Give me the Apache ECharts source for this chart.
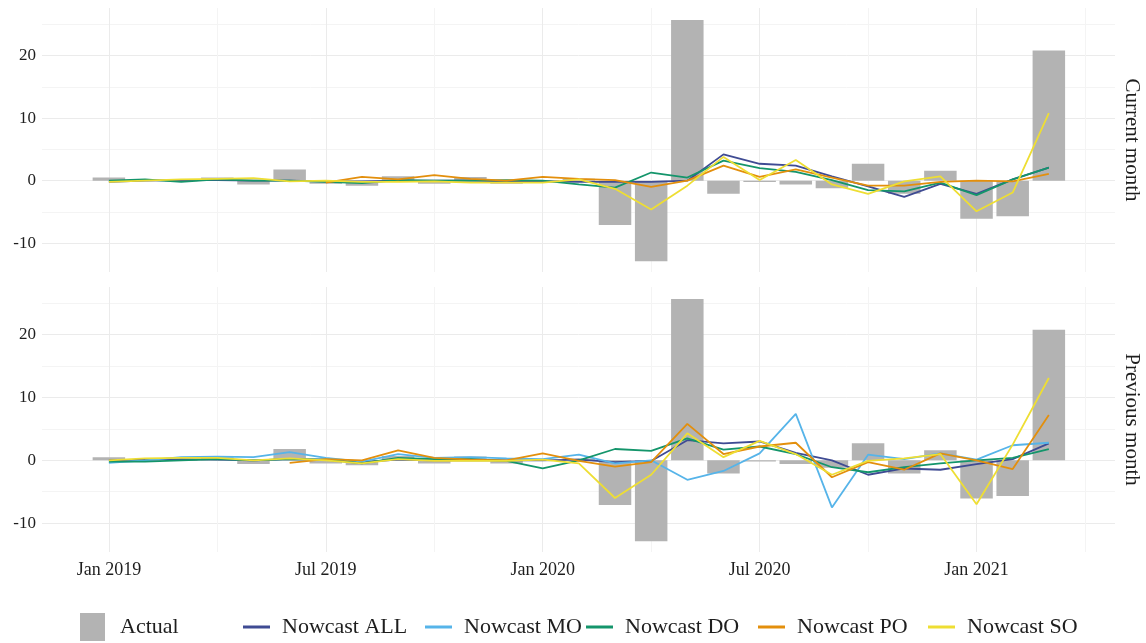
<!DOCTYPE html>
<html>
<head>
<meta charset="utf-8">
<title>Nowcasts vs actual</title>
<script src="https://cdn.jsdelivr.net/npm/echarts@6/dist/echarts.min.js"></script>
<style>
  html, body { margin: 0; padding: 0; background: #ffffff; }
  #chart { width: 1146px; height: 643px; }
</style>
</head>
<body>
<div id="chart"></div>
<script>
// Months covered, Jan 2019 .. Mar 2021 (x position = index in this list)
const months = [
  'Jan 2019','Feb 2019','Mar 2019','Apr 2019','May 2019','Jun 2019',
  'Jul 2019','Aug 2019','Sep 2019','Oct 2019','Nov 2019','Dec 2019',
  'Jan 2020','Feb 2020','Mar 2020','Apr 2020','May 2020','Jun 2020',
  'Jul 2020','Aug 2020','Sep 2020','Oct 2020','Nov 2020','Dec 2020',
  'Jan 2021','Feb 2021','Mar 2021'
];

// Tick positions (month index): labelled half-years and in-between quarters
const xMajorTicks = [0, 6, 12, 18, 24];
const xMinorTicks = [3, 9, 15, 21, 27];
const yMajorTicks = [-10, 0, 10, 20];
const yMinorTicks = [-5, 5, 15, 25];

// Actual monthly change (same in both panels)
const actual = [0.5, 0.1, -0.1, 0.5, -0.6, 1.8, -0.5, -0.8, 0.7, -0.5, 0.6, -0.5,
  0.1, 0.3, -7.1, -12.9, 25.7, -2.1, -0.2, -0.6, -1.2, 2.7, -2.1, 1.6, -6.1, -5.7, 20.8];

// Panel "Current month"
const curALL = [-0.2, 0.0, 0.1, 0.1, 0.0, 0.0, -0.1, -0.1, 0.0, 0.0, 0.0, -0.1,
  -0.1, -0.2, -0.2, -0.2, 0.0, 4.2, 2.7, 2.4, 0.7, -0.9, -2.6, -0.5, -2.1, 0.2, 2.1];
const curDO = [0.0, 0.2, -0.2, 0.2, 0.0, 0.0, -0.2, -0.4, 0.1, 0.0, 0.0, 0.1,
  0.0, -0.6, -1.1, 1.3, 0.5, 3.2, 2.0, 1.4, 0.1, -1.5, -1.7, -0.3, -2.3, 0.2, 2.1];
const curPO = [null, null, null, null, null, null, -0.3, 0.6, 0.2, 0.9, 0.3, 0.0,
  0.6, 0.3, 0.1, -1.0, 0.0, 2.4, 0.6, 1.8, 0.5, -0.8, -0.8, -0.2, 0.0, -0.1, 1.1];
const curSO = [-0.2, 0.0, 0.2, 0.3, 0.4, -0.1, 0.0, -0.2, -0.2, -0.1, -0.3, -0.3,
  -0.3, 0.2, -1.3, -4.6, -0.8, 3.8, 0.1, 3.3, -0.6, -2.1, -0.1, 0.7, -4.9, -1.9, 10.8];

// Panel "Previous month"
const prevALL = [0.0, 0.1, 0.2, 0.1, 0.0, 0.2, 0.1, -0.3, 0.1, 0.0, 0.0, 0.0,
  0.0, 0.1, -0.3, -0.1, 3.2, 2.7, 3.0, 1.2, 0.0, -2.3, -1.3, -1.5, -0.6, 0.2, 2.7];
const prevMO = [-0.4, 0.0, 0.5, 0.6, 0.5, 1.3, 0.4, -0.2, 1.0, 0.4, 0.5, 0.3,
  0.2, 0.9, -0.5, 0.0, -3.1, -1.7, 1.1, 7.4, -7.5, 0.9, 0.2, 1.1, 0.1, 2.4, 2.8];
const prevDO = [-0.2, -0.2, 0.0, 0.2, 0.0, 0.2, 0.1, -0.5, 0.4, 0.2, 0.2, -0.1,
  -1.3, 0.0, 1.8, 1.5, 3.5, 1.7, 2.2, 1.0, -1.1, -1.9, -1.1, -0.5, 0.0, 0.4, 1.8];
const prevPO = [null, null, null, null, null, -0.4, 0.2, 0.0, 1.6, 0.4, 0.1, 0.0,
  1.1, -0.1, -1.0, -0.3, 5.8, 1.0, 2.2, 2.8, -2.7, -0.3, -1.5, 1.1, 0.0, -1.4, 7.2];
const prevSO = [0.0, 0.3, 0.4, 0.4, 0.0, 0.3, 0.0, -0.5, 0.2, -0.1, -0.1, -0.1,
  0.1, -0.5, -6.0, -2.3, 4.3, 0.5, 3.1, 1.0, -2.3, -0.1, 0.3, 1.0, -7.0, 2.5, 13.1];

const seriesNames = ['Actual', 'Nowcast ALL', 'Nowcast MO', 'Nowcast DO', 'Nowcast PO', 'Nowcast SO'];
const seriesColors = {
  'Actual': '#B3B3B3',
  'Nowcast ALL': '#3F4B93',
  'Nowcast MO': '#56B4E9',
  'Nowcast DO': '#14956B',
  'Nowcast PO': '#E38F0C',
  'Nowcast SO': '#EEDE33'
};

const panels = [
  { title: 'Current month', lines: { 'Nowcast ALL': curALL, 'Nowcast DO': curDO, 'Nowcast PO': curPO, 'Nowcast SO': curSO } },
  { title: 'Previous month', lines: { 'Nowcast ALL': prevALL, 'Nowcast MO': prevMO, 'Nowcast DO': prevDO, 'Nowcast PO': prevPO, 'Nowcast SO': prevSO } }
];

const FONT = '"Liberation Serif", "DejaVu Serif", serif';
const TEXT = '#1e1e1e';
const GRID_MAJOR = '#EBEBEB';
const GRID_MINOR = '#F4F4F4';
const X_MIN = -1.85, X_MAX = 27.83;
const Y_MIN = -14.6, Y_MAX = 27.6;

const pairs = (arr) => arr.map((v, i) => [i, v]);

const grids = [
  { left: 42, right: 31, top: 8, height: 264 },
  { left: 42, right: 31, top: 287, height: 265 }
];

const xAxes = [];
const yAxes = [];
grids.forEach((g, gi) => {
  const isBottom = gi === grids.length - 1;
  // major x lines (+ labels on bottom panel)
  xAxes.push({
    type: 'value', gridIndex: gi, min: X_MIN, max: X_MAX, position: 'bottom',
    axisLine: { show: false },
    axisTick: { show: false, customValues: xMajorTicks },
    splitLine: { show: true, lineStyle: { color: GRID_MAJOR, width: 1 } },
    axisLabel: {
      show: isBottom, customValues: xMajorTicks, margin: 9,
      formatter: (v) => months[Math.round(v)] || '',
      fontFamily: FONT, fontSize: 18, color: TEXT
    }
  });
  // minor x lines
  xAxes.push({
    type: 'value', gridIndex: gi, min: X_MIN, max: X_MAX, position: 'top',
    axisLine: { show: false },
    axisTick: { show: false, customValues: xMinorTicks },
    axisLabel: { show: false },
    splitLine: { show: true, lineStyle: { color: GRID_MINOR, width: 1 } }
  });
  yAxes.push({
    type: 'value', gridIndex: gi, min: Y_MIN, max: Y_MAX, position: 'left',
    axisLine: { show: false },
    axisTick: { show: false, customValues: yMajorTicks },
    splitLine: { show: true, lineStyle: { color: GRID_MAJOR, width: 1 } },
    axisLabel: {
      customValues: yMajorTicks, margin: 6,
      fontFamily: FONT, fontSize: 17, color: TEXT
    }
  });
  yAxes.push({
    type: 'value', gridIndex: gi, min: Y_MIN, max: Y_MAX, position: 'right',
    axisLine: { show: false },
    axisTick: { show: false, customValues: yMinorTicks },
    axisLabel: { show: false },
    splitLine: { show: true, lineStyle: { color: GRID_MINOR, width: 1 } }
  });
});

const series = [];
panels.forEach((p, pi) => {
  const xi = pi * 2, yi = pi * 2;
  series.push({
    name: 'Actual', type: 'bar', xAxisIndex: xi, yAxisIndex: yi,
    data: pairs(actual), barWidth: 32.5,
    itemStyle: { color: seriesColors['Actual'] },
    silent: true, z: 1
  });
  seriesNames.slice(1).forEach((name) => {
    if (!p.lines[name]) return;
    series.push({
      name, type: 'line', xAxisIndex: xi, yAxisIndex: yi,
      data: pairs(p.lines[name]), showSymbol: false, symbol: 'none',
      color: seriesColors[name],
      lineStyle: { color: seriesColors[name], width: 1.8 },
      connectNulls: false, silent: true, z: 2
    });
  });
});

// one legend block per key, laid out along the bottom
const legendLeft = [75, 238, 420, 581, 753, 923];
const legends = seriesNames.map((name, i) => ({
  data: [name], left: legendLeft[i], top: 608,
  icon: 'rect',
  itemWidth: i === 0 ? 25 : 27,
  itemHeight: i === 0 ? 28 : 3,
  selectedMode: false,
  textStyle: {
    fontFamily: FONT, fontSize: 22, color: TEXT, lineHeight: 28,
    padding: [0, 0, 0, i === 0 ? 10 : 7]
  }
}));

const stripLabels = panels.map((p, i) => ({
  type: 'text',
  x: 1132,
  y: grids[i].top + grids[i].height / 2,
  rotation: -Math.PI / 2,
  style: {
    text: p.title, fontFamily: FONT, fontSize: 21, fill: TEXT,
    textAlign: 'center', textVerticalAlign: 'middle'
  }
}));

const chart = echarts.init(document.getElementById('chart'), null, { renderer: 'canvas' });
chart.setOption({
  backgroundColor: '#ffffff',
  animation: false,
  grid: grids,
  xAxis: xAxes,
  yAxis: yAxes,
  legend: legends,
  graphic: stripLabels,
  series
});
</script>
</body>
</html>
